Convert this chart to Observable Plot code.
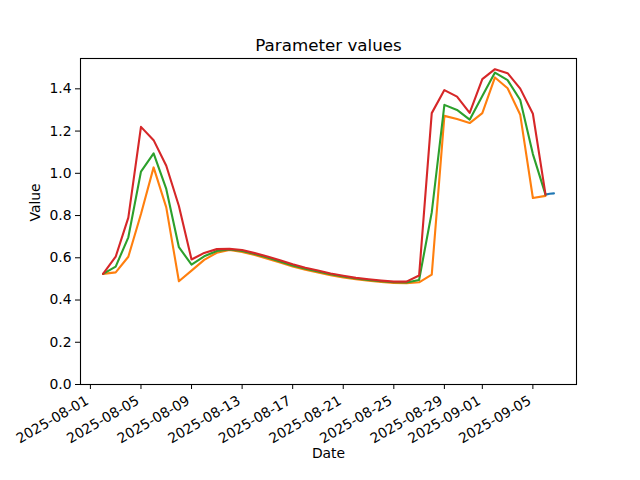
<!DOCTYPE html>
<html><head><meta charset="utf-8">
<script src="https://cdn.jsdelivr.net/npm/d3@7"></script>
<script src="https://cdn.jsdelivr.net/npm/@observablehq/plot@0.6"></script>
<style>body{margin:0;background:#fff}</style>
</head><body><div id="chart"></div>
<script>
const dates = [
  "2025-08-02","2025-08-03","2025-08-04","2025-08-05","2025-08-06","2025-08-07","2025-08-08","2025-08-09",
  "2025-08-10","2025-08-11","2025-08-12","2025-08-13","2025-08-14","2025-08-15","2025-08-16","2025-08-17",
  "2025-08-18","2025-08-19","2025-08-20","2025-08-21","2025-08-22","2025-08-23","2025-08-24","2025-08-25",
  "2025-08-26","2025-08-27","2025-08-28","2025-08-29","2025-08-30","2025-08-31","2025-09-01","2025-09-02",
  "2025-09-03","2025-09-04","2025-09-05","2025-09-06"
];
const orangeValues = [
  0.524,0.531,0.605,0.807,1.028,0.839,0.489,0.539,
  0.590,0.624,0.637,0.628,0.613,0.596,0.578,0.559,
  0.543,0.530,0.517,0.507,0.498,0.491,0.486,0.481,
  0.480,0.484,0.520,1.272,1.257,1.238,1.285,1.454,
  1.403,1.277,0.883,0.893
];
const greenValues = [
  0.524,0.558,0.697,1.008,1.094,0.926,0.650,0.568,
  0.607,0.632,0.639,0.632,0.618,0.601,0.583,0.564,
  0.548,0.535,0.522,0.511,0.502,0.495,0.489,0.484,
  0.483,0.495,0.815,1.324,1.300,1.254,1.366,1.477,
  1.441,1.347,1.091,0.899
];
const redValues = [
  0.524,0.605,0.790,1.220,1.157,1.036,0.845,0.592,
  0.623,0.641,0.642,0.637,0.622,0.606,0.588,0.569,
  0.553,0.540,0.526,0.515,0.505,0.498,0.492,0.487,
  0.487,0.516,1.285,1.394,1.363,1.286,1.446,1.493,
  1.474,1.401,1.282,0.899
];
const blueTimes = ["2025-09-06T00:00:00Z","2025-09-06T08:00:00Z","2025-09-06T16:00:00Z"];
const blueValues = [0.899, 0.903, 0.905];
const xTickLabels = ["2025-08-01","2025-08-05","2025-08-09","2025-08-13","2025-08-17","2025-08-21","2025-08-25","2025-08-29","2025-09-01","2025-09-05"];
const yTicks = [0, 0.2, 0.4, 0.6, 0.8, 1.0, 1.2, 1.4];
const titleText = "Parameter values";
const xLabel = "Date";
const yLabel = "Value";

const parse = s => new Date(s.length === 10 ? s + "T00:00:00Z" : s);
const mk = vals => dates.map((d, i) => ({date: parse(d), value: vals[i]}));
const orange = mk(orangeValues), green = mk(greenValues), red = mk(redValues);
const blue = blueTimes.map((t, i) => ({date: parse(t), value: blueValues[i]}));

const allDates = [...orange, ...blue].map(d => +d.date);
const x0 = d3.min(allDates), x1 = d3.max(allDates), span = x1 - x0;
const allVals = [...orangeValues, ...greenValues, ...redValues, ...blueValues];
const vmin = d3.min(allVals), vmax = d3.max(allVals);
const yTop = vmax + 0.05 * (vmax - vmin);
const xTickDates = xTickLabels.map(parse);
const fmt = d3.utcFormat("%Y-%m-%d");

const chart = Plot.plot({
  width: 640, height: 480,
  marginLeft: 80, marginRight: 64, marginTop: 58, marginBottom: 96,
  style: {fontFamily: "DejaVu Sans", fontSize: "13.9px", background: "white", color: "black"},
  x: {type: "utc", domain: [new Date(x0 - 0.05 * span), new Date(x1 + 0.05 * span)]},
  y: {domain: [0, yTop]},
  marks: [
    Plot.axisY({ticks: yTicks, tickFormat: d3.format(".1f"), tickSize: 5, tickPadding: 4, label: null}),
    Plot.axisX({ticks: xTickDates, tickFormat: () => "", tickSize: 5, label: null}),
    Plot.text(xTickDates, {x: d => d, text: d => fmt(d), frameAnchor: "bottom", rotate: -30, textAnchor: "end", lineAnchor: "middle", dx: -3, dy: 15}),
    Plot.line(blue, {x: "date", y: "value", stroke: "#1f77b4", strokeWidth: 2.1}),
    Plot.line(orange, {x: "date", y: "value", stroke: "#ff7f0e", strokeWidth: 2.1}),
    Plot.line(green, {x: "date", y: "value", stroke: "#2ca02c", strokeWidth: 2.1}),
    Plot.line(red, {x: "date", y: "value", stroke: "#d62728", strokeWidth: 2.1}),
    Plot.frame({stroke: "black", strokeWidth: 1.1}),
    Plot.text([titleText], {text: d => d, frameAnchor: "top", dy: -8, lineAnchor: "bottom", fontSize: 16.7}),
    Plot.text([yLabel], {text: d => d, frameAnchor: "left", dx: -45, rotate: -90}),
    Plot.text([xLabel], {text: d => d, frameAnchor: "bottom", dy: 73})
  ]
});
document.getElementById("chart").appendChild(chart);
</script>
</body></html>
